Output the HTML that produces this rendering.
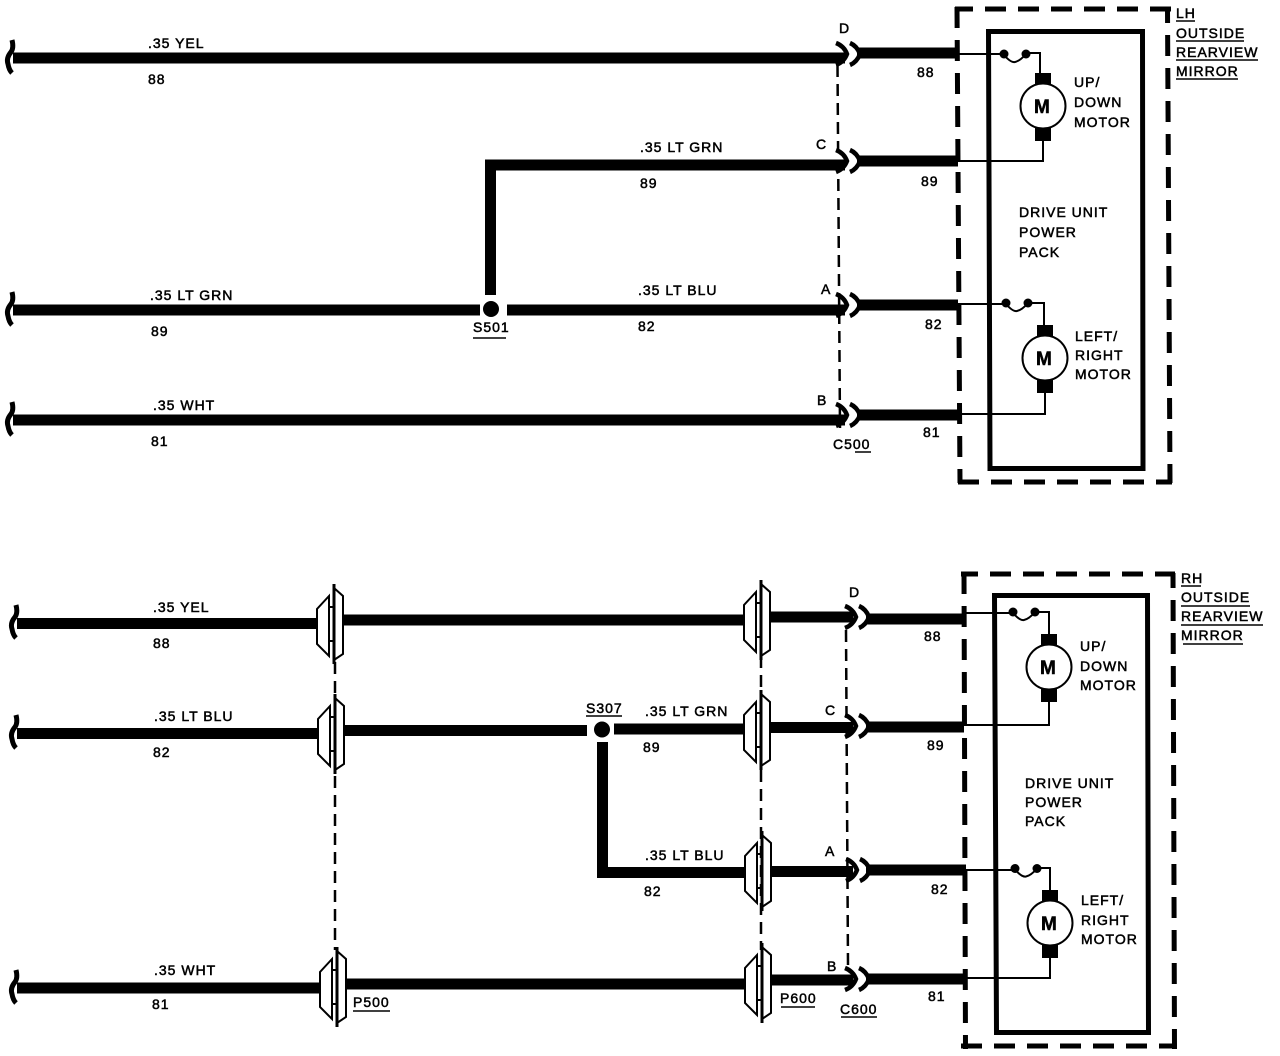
<!DOCTYPE html>
<html><head><meta charset="utf-8"><title>Outside Rearview Mirror Wiring</title>
<style>
html,body{margin:0;padding:0;background:#fff;width:1280px;height:1056px;overflow:hidden}
svg{display:block}
text{font-family:"Liberation Sans",sans-serif;font-size:14px;letter-spacing:1px;fill:#000;stroke:#000;stroke-width:.5}
.w{stroke:#000;stroke-width:11;fill:none}
.t{stroke:#000;stroke-width:2;fill:none}
.d{stroke:#000;stroke-width:5;fill:none;stroke-dasharray:21 12}
.k{stroke:#000;stroke-width:2.5;fill:none;stroke-dasharray:12 7}
.u{stroke:#000;stroke-width:1.5;fill:none}
</style></head><body>
<svg width="1280" height="1056" viewBox="0 0 1280 1056" xmlns="http://www.w3.org/2000/svg">
<defs>
<path id="curl" d="M16,-18 Q18,-10 15,-6 Q10,0 12,6 Q13,12 16,15" stroke="#000" stroke-width="5" fill="none"/>
<g id="chev" fill="none" stroke="#000" stroke-width="4.5"><path d="M-13,-11 Q-5,-8 -2,0 Q-5,8 -13,11"/><path d="M1,-11 Q8,-8 11,0 Q8,8 1,11"/></g>
<g id="plug" fill="#fff" stroke="#000" stroke-width="2">
<path d="M-5,-28 L-17,-15 L-17,20 L-5,32 Z"/><path d="M0,-36 L9,-28 L9,30 L0,36 Z"/>
<path d="M-5,-17 H0 M-5,17 H0"/><path d="M0,-40 V40" stroke-width="3"/>
</g>
<g id="motor">
<rect x="-8" y="-33" width="16" height="13" fill="#000"/>
<rect x="-8" y="21" width="16" height="14" fill="#000"/>
<circle cx="0" cy="0" r="22.5" fill="#fff" stroke="#000" stroke-width="2"/>
<text x="-9" y="7" style="font-size:19px;letter-spacing:0;font-weight:bold">M</text>
</g>
<g id="fuse"><circle cx="0" cy="0" r="4.5" fill="#000"/><circle cx="22" cy="0" r="4.5" fill="#000"/><path d="M0,1 Q7,9 11,8 Q16,7 22,0" class="t"/></g>
</defs>

<!-- TOP: wires -->
<path class="w" d="M13,58H845M857,53H958M490.5,295V165H845M857,161H958M13,310H480M507,310H845M857,305H958M13,420H845M857,415H958"/>
<circle cx="491" cy="309" r="8" fill="#000"/>
<use href="#curl" x="-4" y="58"/><use href="#curl" x="-4" y="310"/><use href="#curl" x="-4" y="420"/>
<use href="#chev" x="849" y="54"/><use href="#chev" x="849" y="161"/><use href="#chev" x="849" y="305"/><use href="#chev" x="849" y="415"/>
<path class="k" d="M837.5,65L840,428"/>

<!-- TOP: boxes -->
<path class="d" style="stroke-dashoffset:3" d="M955,9H1171"/>
<path class="d" d="M957,7L960,483"/>
<path class="d" style="stroke-dashoffset:7" d="M1167.5,9L1170,483"/>
<path class="d" d="M958,482H1172"/>
<path d="M988.5,31.5H1142.5L1143,468.5H990Z" fill="none" stroke="#000" stroke-width="5"/>

<!-- TOP: internal -->
<path class="t" d="M958,54H1000M1026,53H1040V75M1043,135V161H958"/>
<use href="#fuse" x="1004" y="54"/>
<use href="#motor" x="1043" y="106"/>
<path class="t" d="M958,304H1002M1028,303H1044V326M1045,390V414H958"/>
<use href="#fuse" x="1006" y="303"/>
<use href="#motor" x="1045" y="358"/>

<!-- TOP: labels -->
<text x="148" y="48">.35 YEL</text><text x="148" y="84">88</text>
<text x="640" y="152">.35 LT GRN</text><text x="640" y="188">89</text>
<text x="150" y="300">.35 LT GRN</text><text x="151" y="336">89</text>
<text x="638" y="295">.35 LT BLU</text><text x="638" y="331">82</text>
<text x="153" y="410">.35 WHT</text><text x="151" y="446">81</text>
<text x="473" y="332">S501</text><path class="u" d="M473,338H506"/>
<text x="839" y="33">D</text><text x="816" y="149">C</text><text x="821" y="294">A</text><text x="817" y="405">B</text>
<text x="833" y="449">C500</text><path class="u" d="M855,452H871"/>
<text x="917" y="77">88</text><text x="921" y="186">89</text><text x="925" y="329">82</text><text x="923" y="437">81</text>
<text x="1074" y="87">UP/</text><text x="1074" y="107">DOWN</text><text x="1074" y="127">MOTOR</text>
<text x="1019" y="217">DRIVE UNIT</text><text x="1019" y="237">POWER</text><text x="1019" y="257">PACK</text>
<text x="1075" y="341">LEFT/</text><text x="1075" y="360">RIGHT</text><text x="1075" y="379">MOTOR</text>
<text x="1176" y="18">LH</text><path class="u" d="M1176,21H1195"/>
<text x="1176" y="38">OUTSIDE</text><path class="u" d="M1176,41H1244"/>
<text x="1176" y="57">REARVIEW</text><path class="u" d="M1176,60H1258"/>
<text x="1176" y="76">MIRROR</text><path class="u" d="M1176,79H1238"/>

<!-- BOTTOM: wires -->
<path class="w" d="M17,623.5H320M342,620H745M770,617H853M866,619H964M17,733.5H320M342,730.5H587M614,729H745M770,727.5H853M866,727H964M602.5,742V872.5H745M770,871.5H853M866,870H966M17,988H320M342,984H748M772,980H853M866,979H966"/>
<circle cx="602" cy="729.5" r="8" fill="#000"/>
<use href="#curl" x="0" y="623"/><use href="#curl" x="0" y="733"/><use href="#curl" x="0" y="988"/>
<use href="#chev" x="858" y="617"/><use href="#chev" x="858" y="726"/><use href="#chev" x="859" y="870"/><use href="#chev" x="858" y="979"/>
<path class="k" d="M846,630L848,966"/>
<path class="k" d="M335,662V950"/>
<path class="k" d="M761,656V950"/>
<use href="#plug" x="334" y="624"/><use href="#plug" x="335" y="734"/><use href="#plug" x="337" y="987"/>
<use href="#plug" x="761" y="620"/><use href="#plug" x="761" y="730"/><use href="#plug" x="762" y="871"/><use href="#plug" x="762" y="983"/>

<!-- BOTTOM: boxes -->
<path class="d" style="stroke-dashoffset:4" d="M961,574H1175"/>
<path class="d" d="M964,573L965.5,1049"/>
<path class="d" style="stroke-dashoffset:6" d="M1173,573L1174.5,1049"/>
<path class="d" d="M961,1046H1177"/>
<path d="M994.5,595.5H1147.5L1148.5,1032.5H996.5Z" fill="none" stroke="#000" stroke-width="5"/>

<!-- BOTTOM: internal -->
<path class="t" d="M964,613H1009M1035,612H1049V636M1049,700V725H964"/>
<use href="#fuse" x="1013" y="612"/>
<use href="#motor" x="1049" y="667"/>
<path class="t" d="M964,870H1015M1037,868H1050V893M1050,957V978H964"/>
<use href="#fuse" x="1015" y="868.5"/>
<use href="#motor" x="1050" y="923"/>

<!-- BOTTOM: labels -->
<text x="153" y="612">.35 YEL</text><text x="153" y="648">88</text>
<text x="154" y="721">.35 LT BLU</text><text x="153" y="757">82</text>
<text x="586" y="713">S307</text><path class="u" d="M586,716H622"/>
<text x="645" y="716">.35 LT GRN</text><text x="643" y="752">89</text>
<text x="645" y="860">.35 LT BLU</text><text x="644" y="896">82</text>
<text x="154" y="975">.35 WHT</text><text x="152" y="1009">81</text>
<text x="849" y="597">D</text><text x="825" y="715">C</text><text x="825" y="856">A</text><text x="827" y="971">B</text>
<text x="924" y="641">88</text><text x="927" y="750">89</text><text x="931" y="894">82</text><text x="928" y="1001">81</text>
<text x="353" y="1007">P500</text><path class="u" d="M353,1011H390"/>
<text x="780" y="1003">P600</text><path class="u" d="M781,1007H815"/>
<text x="840" y="1014">C600</text><path class="u" d="M841,1017H877"/>
<text x="1181" y="583">RH</text><path class="u" d="M1181,586H1201"/>
<text x="1181" y="602">OUTSIDE</text><path class="u" d="M1181,606H1250"/>
<text x="1181" y="621">REARVIEW</text><path class="u" d="M1181,625H1263"/>
<text x="1181" y="640">MIRROR</text><path class="u" d="M1183,644H1243"/>
<text x="1080" y="651">UP/</text><text x="1080" y="671">DOWN</text><text x="1080" y="690">MOTOR</text>
<text x="1025" y="788">DRIVE UNIT</text><text x="1025" y="807">POWER</text><text x="1025" y="826">PACK</text>
<text x="1081" y="905">LEFT/</text><text x="1081" y="925">RIGHT</text><text x="1081" y="944">MOTOR</text>
</svg>
</body></html>
